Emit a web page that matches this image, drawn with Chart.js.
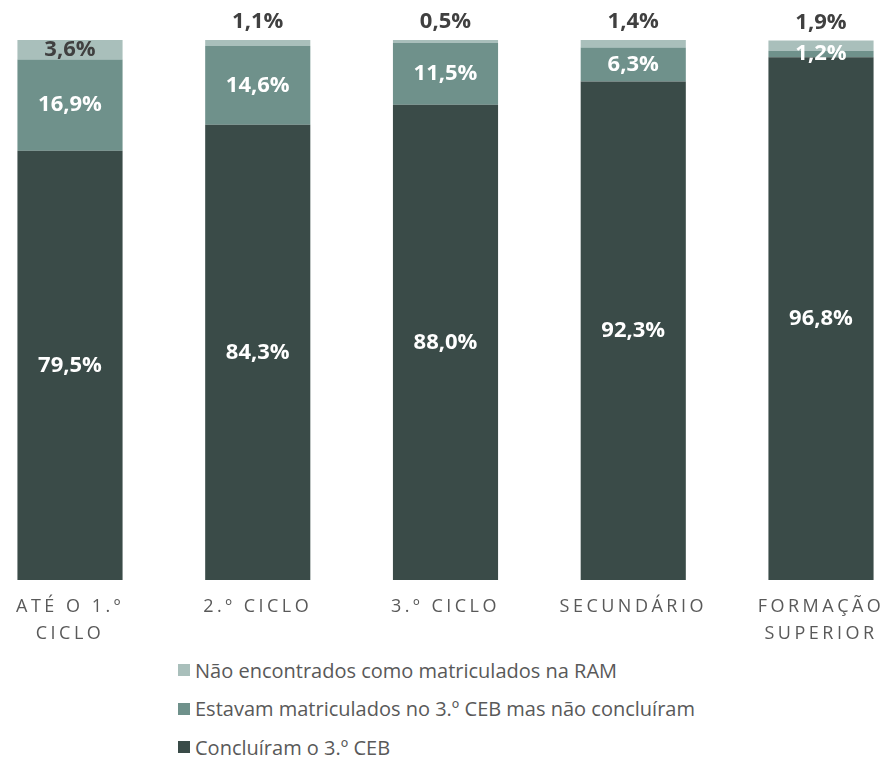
<!DOCTYPE html>
<html>
<head>
<meta charset="utf-8">
<script src="https://cdn.jsdelivr.net/npm/chart.js@4"></script>
<style>
    html, body { margin: 0; padding: 0; background: #fff; overflow: hidden; }
    #wrap { position: relative; width: 889px; height: 758px; }
    #chartBox { position: absolute; left: 0; top: 0; width: 889px; height: 650px; }
    #legend { position: absolute; left: 178px; top: 651px; font-family: "Open Sans", sans-serif; font-size: 20px; color: #595959; }
    #legend .item { display: flex; align-items: center; height: 38.5px; }
    #legend .box { width: 12px; height: 12px; margin-right: 5px; }
</style>
</head>
<body>
<div id="wrap">
    <div id="chartBox"><canvas id="barChart"></canvas></div>
    <div id="legend"></div>
</div>
<script>
    // Data
    var categorias = [['ATÉ O 1.º', 'CICLO'], '2.º CICLO', '3.º CICLO', 'SECUNDÁRIO', ['FORMAÇÃO', 'SUPERIOR']];
    var concluiram = [79.5, 84.3, 88.0, 92.3, 96.8];
    var matriculados = [16.9, 14.6, 11.5, 6.3, 1.2];
    var naoEncontrados = [3.6, 1.1, 0.5, 1.4, 1.9];
    var nomesSeries = [
        'Concluíram o 3.º CEB',
        'Estavam matriculados no 3.º CEB mas não concluíram',
        'Não encontrados como matriculados na RAM'
    ];
    var cores = ['#3a4b48', '#6f918b', '#a9bfbb'];

    function fmt(v) {
        return v.toFixed(1).replace('.', ',') + '%';
    }

    // Letter-spaced axis labels, normal spacing for the rest
    var spacingPlugin = {
        id: 'spacing',
        beforeDraw: function (chart) { chart.ctx.letterSpacing = '3.5px'; },
        beforeDatasetsDraw: function (chart) { chart.ctx.letterSpacing = '0px'; }
    };

    // Value labels on the segments
    var labelsPlugin = {
        id: 'valueLabels',
        afterDatasetsDraw: function (chart) {
            var ctx = chart.ctx;
            ctx.save();
            ctx.letterSpacing = '0px';
            ctx.font = 'bold 22px "Open Sans"';
            ctx.textAlign = 'center';
            ctx.textBaseline = 'middle';
            chart.data.datasets.forEach(function (ds, di) {
                var meta = chart.getDatasetMeta(di);
                meta.data.forEach(function (bar, i) {
                    var h = bar.base - bar.y;
                    var y = (bar.y + bar.base) / 2;
                    if (di === 2) {
                        ctx.fillStyle = '#404040';
                        if (h < 12) y = bar.y - 18;
                    } else {
                        ctx.fillStyle = '#ffffff';
                    }
                    ctx.fillText(fmt(ds.data[i]), bar.x, y);
                });
            });
            ctx.restore();
        }
    };

    var ctx = document.getElementById('barChart').getContext('2d');
    var chart = new Chart(ctx, {
        type: 'bar',
        data: {
            labels: categorias,
            datasets: [
                { label: nomesSeries[0], data: concluiram, backgroundColor: cores[0] },
                { label: nomesSeries[1], data: matriculados, backgroundColor: cores[1] },
                { label: nomesSeries[2], data: naoEncontrados, backgroundColor: cores[2] }
            ]
        },
        options: {
            responsive: true,
            maintainAspectRatio: false,
            animation: false,
            layout: { padding: { left: 70, right: 68, top: 40, bottom: 0 } },
            datasets: {
                bar: { categoryPercentage: 1, barPercentage: 0.56, borderWidth: 0, clip: false }
            },
            scales: {
                x: {
                    stacked: true,
                    offset: false,
                    grid: { display: false, drawTicks: false },
                    border: { display: false },
                    ticks: {
                        autoSkip: false,
                        maxRotation: 0,
                        color: '#595959',
                        padding: 13,
                        font: { family: 'Open Sans', size: 18, lineHeight: 1.5 }
                    },
                    afterFit: function (scale) { scale.height = 70; }
                },
                y: {
                    stacked: true,
                    display: false,
                    min: 0,
                    max: 100
                }
            },
            plugins: {
                legend: { display: false },
                tooltip: { enabled: false }
            }
        },
        plugins: [spacingPlugin, labelsPlugin]
    });

    // Legend, top series first as in the picture
    var legend = document.getElementById('legend');
    [2, 1, 0].forEach(function (i) {
        var item = document.createElement('div');
        item.className = 'item';
        var box = document.createElement('span');
        box.className = 'box';
        box.style.background = cores[i];
        var txt = document.createElement('span');
        txt.textContent = nomesSeries[i];
        item.appendChild(box);
        item.appendChild(txt);
        legend.appendChild(item);
    });
</script>
</body>
</html>
